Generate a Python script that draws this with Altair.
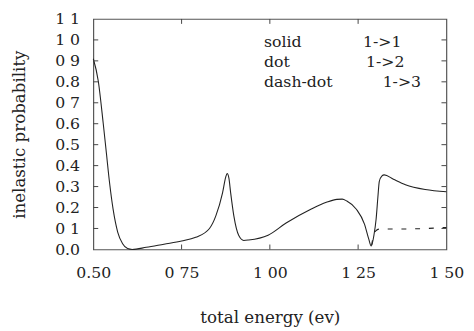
import altair as alt
import pandas as pd

# 1->1 transition (solid)
energy_11 = [0.500, 0.514, 0.528, 0.537, 0.546, 0.556, 0.569, 0.583, 0.597, 0.610,
             0.650, 0.700, 0.750, 0.790, 0.829, 0.847, 0.866, 0.875, 0.879, 0.884,
             0.889, 0.898, 0.912, 0.926, 0.940, 0.995, 1.046, 1.116, 1.160, 1.190,
             1.205, 1.218, 1.245, 1.268, 1.280, 1.287, 1.295, 1.301, 1.306, 1.310,
             1.317, 1.324, 1.350, 1.384, 1.440, 1.500]
prob_11 = [0.910, 0.804, 0.602, 0.460, 0.318, 0.192, 0.083, 0.027, 0.004, 0.000,
           0.010, 0.025, 0.040, 0.058, 0.100, 0.160, 0.270, 0.345, 0.362, 0.340,
           0.270, 0.160, 0.066, 0.043, 0.045, 0.068, 0.126, 0.192, 0.225, 0.239,
           0.240, 0.231, 0.192, 0.121, 0.050, 0.016, 0.070, 0.145, 0.250, 0.325,
           0.350, 0.356, 0.335, 0.309, 0.286, 0.275]

# 1->2 transition (dot)
energy_12 = [1.288, 1.293, 1.300, 1.310, 1.400, 1.500]
prob_12 = [0.020, 0.060, 0.088, 0.097, 0.098, 0.105]

x_ticks = [0.50, 0.75, 1.00, 1.25, 1.50]
x_tick_labels = ["0.50", "0 75", "1 00", "1 25", "1 50"]
y_ticks = [0.0, 0.1, 0.2, 0.3, 0.4, 0.5, 0.6, 0.7, 0.8, 0.9, 1.0, 1.1]
y_tick_labels = ["0.0", "0 1", "0.2", "0.3", "0.4", "0.5", "0.6", "0 7", "0.8", "0 9", "1 0", "1 1"]
inner_x_ticks = [0.75, 1.00, 1.25]
inner_y_ticks = [0.1, 0.2, 0.3, 0.4, 0.5, 0.6, 0.7, 0.8, 0.9, 1.0]

legend_names = ["solid", "dot", "dash-dot"]
legend_trans = ["1->1", "1->2", "1->3"]

FONT = "DejaVu Serif"
INK = "#222"
W, H = 360, 235
FS = 16


def label_expr(vals, labels):
    expr = "''"
    for v, l in reversed(list(zip(vals, labels))):
        expr = f"abs(datum.value - {v}) < 0.001 ? '{l}' : ({expr})"
    return expr


xs = alt.Scale(domain=[0.5, 1.5], nice=False, zero=False)
ys = alt.Scale(domain=[0.0, 1.1], nice=False, zero=False)

df11 = pd.DataFrame({"e": energy_11, "p": prob_11})
df12 = pd.DataFrame({"e": energy_12, "p": prob_12})

x_axis = alt.Axis(values=x_ticks, labelExpr=label_expr(x_ticks, x_tick_labels),
                  domain=False, ticks=False, grid=False, labelPadding=16,
                  labelFont=FONT, labelFontSize=FS, labelColor=INK,
                  labelOverlap=False, labelFlush=False,
                  title="total energy (ev)", titleFont=FONT, titleFontSize=FS + 1,
                  titleFontWeight="normal", titleColor=INK, titleX=W / 2,
                  titleY=70, titleBaseline="middle")
y_axis = alt.Axis(values=y_ticks, labelExpr=label_expr(y_ticks, y_tick_labels),
                  domain=False, ticks=False, grid=False, labelPadding=14,
                  labelFont=FONT, labelFontSize=FS, labelColor=INK,
                  labelOverlap=False, labelFlush=False,
                  title="inelastic probability", titleFont=FONT, titleFontSize=FS + 1,
                  titleFontWeight="normal", titleColor=INK, titleX=-75,
                  titleY=H / 2, titleBaseline="middle", titleAngle=-90)

solid = alt.Chart(df11).mark_line(color=INK, strokeWidth=1.1, interpolate="monotone").encode(
    x=alt.X("e:Q", scale=xs, axis=x_axis, title="total energy (ev)"),
    y=alt.Y("p:Q", scale=ys, axis=y_axis, title="inelastic probability"),
    order="e:Q",
)
dot = alt.Chart(df12).mark_line(color=INK, strokeWidth=1.1, strokeDash=[5, 9],
                                interpolate="monotone").encode(
    x=alt.X("e:Q", scale=xs, axis=x_axis, title="total energy (ev)"),
    y=alt.Y("p:Q", scale=ys, axis=y_axis, title="inelastic probability"),
    order="e:Q",
)

dfx = pd.DataFrame({"e": inner_x_ticks})
dfy = pd.DataFrame({"p": inner_y_ticks})
tick_color = "#444"
bt = alt.Chart(dfx).mark_rule(color=tick_color).encode(
    x=alt.X("e:Q", scale=xs, axis=x_axis, title="total energy (ev)"),
    y=alt.value(H), y2=alt.value(H - 5))
tt = alt.Chart(dfx).mark_rule(color=tick_color).encode(
    x=alt.X("e:Q", scale=xs, axis=x_axis, title="total energy (ev)"),
    y=alt.value(0), y2=alt.value(5))
lt = alt.Chart(dfy).mark_rule(color=tick_color).encode(
    y=alt.Y("p:Q", scale=ys, axis=y_axis, title="inelastic probability"),
    x=alt.value(0), x2=alt.value(5))
rt = alt.Chart(dfy).mark_rule(color=tick_color).encode(
    y=alt.Y("p:Q", scale=ys, axis=y_axis, title="inelastic probability"),
    x=alt.value(W), x2=alt.value(W - 5))

legend_layers = []
row_y = [24, 44, 64]
trans_x = [275, 278, 295]
for i in range(3):
    legend_layers.append(
        alt.Chart(pd.DataFrame({"s": [legend_names[i]]})).mark_text(
            font=FONT, fontSize=FS, color=INK, align="left", baseline="middle"
        ).encode(text="s:N", x=alt.value(174), y=alt.value(row_y[i]))
    )
    legend_layers.append(
        alt.Chart(pd.DataFrame({"s": [legend_trans[i]]})).mark_text(
            font=FONT, fontSize=FS, color=INK, align="left", baseline="middle"
        ).encode(text="s:N", x=alt.value(trans_x[i]), y=alt.value(row_y[i]))
    )

chart = alt.layer(solid, dot, bt, tt, lt, rt, *legend_layers).properties(
    width=W, height=H,
    autosize=alt.AutoSizeParams(type="none"),
    padding={"left": 87, "top": 8, "right": 20, "bottom": 80},
    background="white",
).configure_view(stroke="#555", strokeWidth=1.2)

chart.save("out.html", embed_options={"renderer": "svg", "actions": False})
